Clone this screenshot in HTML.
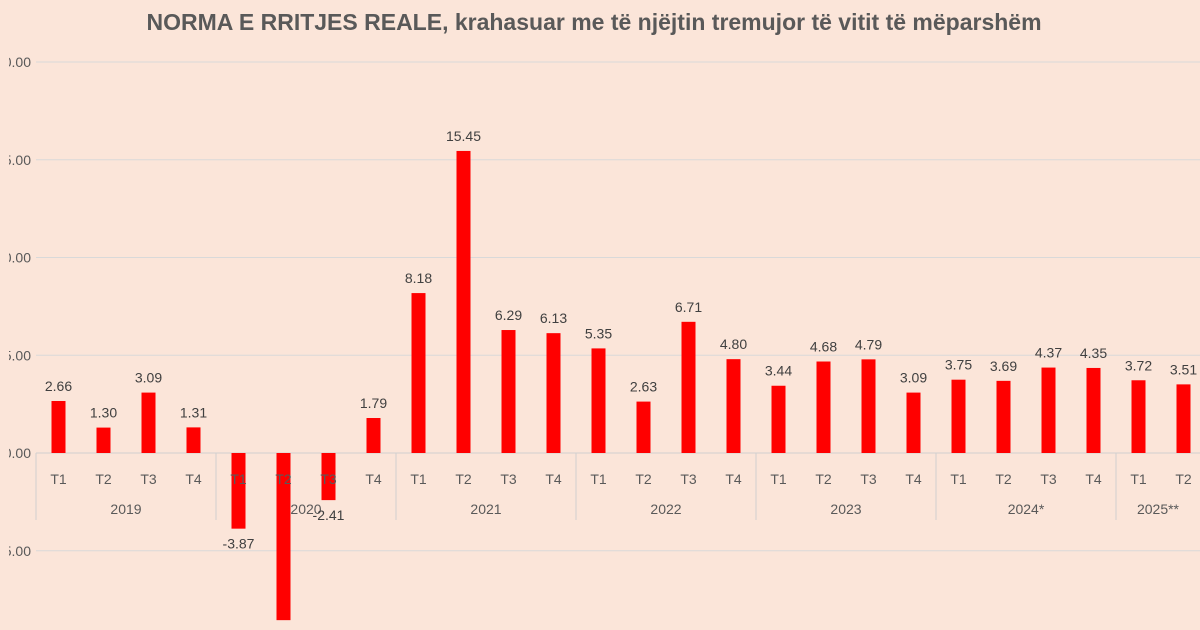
<!DOCTYPE html>
<html><head><meta charset="utf-8"><style>
body{margin:0;background:#fbe5d9;}
svg{display:block;font-family:"Liberation Sans",sans-serif;}
</style></head><body>
<svg id="chart" width="1200" height="630" viewBox="0 0 1200 630">
<defs><clipPath id="lc"><rect x="9" y="0" width="1200" height="630"/></clipPath></defs>
<rect width="1200" height="630" fill="#fbe5d9"/>
<text x="594" y="30" text-anchor="middle" font-size="23" font-weight="bold" fill="#595959">NORMA E RRITJES REALE, krahasuar me të njëjtin tremujor të vitit të mëparshëm</text>
<g id="grid"></g><g id="ylab" clip-path="url(#lc)"></g><g id="bars"></g><g id="labels"></g>
</svg>
<script>
const years=["2019","2020","2021","2022","2023","2024*","2025**"];
const quarters=["T1","T2","T3","T4","T1","T2","T3","T4","T1","T2","T3","T4","T1","T2","T3","T4","T1","T2","T3","T4","T1","T2","T3","T4","T1","T2"];
const values=[2.66,1.30,3.09,1.31,-3.87,-8.55,-2.41,1.79,8.18,15.45,6.29,6.13,5.35,2.63,6.71,4.80,3.44,4.68,4.79,3.09,3.75,3.69,4.37,4.35,3.72,3.51];
const valueLabels=["2.66","1.30","3.09","1.31","-3.87","-8.55","-2.41","1.79","8.18","15.45","6.29","6.13","5.35","2.63","6.71","4.80","3.44","4.68","4.79","3.09","3.75","3.69","4.37","4.35","3.72","3.51"];
const yTicks=[-5,0,5,10,15,20];
const yTickLabels=["-5.00","0.00","5.00","10.00","15.00","20.00"];
const NS="http://www.w3.org/2000/svg";
const y0=453,ppu=19.55,x0=36,step=45;
const Y=v=>y0-v*ppu, X=i=>x0+step*i+step/2;
function mk(tag,attrs,parent,txt){const e=document.createElementNS(NS,tag);for(const k in attrs)e.setAttribute(k,attrs[k]);if(txt!==undefined)e.textContent=txt;document.getElementById(parent).appendChild(e);return e;}
yTicks.forEach((t,i)=>{
 const l=mk('line',{x1:x0,x2:1200,y1:Y(t),y2:Y(t),stroke:t===0?'#d0d0d0':'#d9d9d9','stroke-width':1},'grid');
 
 
 const tx=mk('text',{x:31,y:Y(t)+5,'text-anchor':'end','font-size':14,fill:'#595959'},'ylab',yTickLabels[i]);
 
 
});
for(let k=0;k<=years.length;k++){
 const x=x0+k*4*step;
 const l=mk('line',{x1:x,x2:x,y1:y0,y2:520,stroke:'#d0d0d0','stroke-width':1},'grid');
 
 
}
years.forEach((yr,k)=>{
 const cx=k===years.length-1?1158:x0+k*4*step+2*step;
 const t=mk('text',{x:cx,y:514,'text-anchor':'middle','font-size':14,fill:'#595959'},'labels',yr);
 
 
});
values.forEach((v,i)=>{
 const cx=X(i),w=14;
 const b=mk('rect',{x:cx-w/2,y:Math.min(Y(v),y0),width:w,height:Math.abs(Y(v)-y0),fill:'#ff0000'},'bars');
 
 
 const q=mk('text',{x:cx,y:484,'text-anchor':'middle','font-size':14,fill:'#595959'},'labels',quarters[i]);
 
 
 const ly=v>=0?Y(v)-10:Y(v)+20;
 const d=mk('text',{x:cx,y:ly,'text-anchor':'middle','font-size':14,fill:'#404040'},'labels',valueLabels[i]);
 
 
});
</script>
</body></html>
